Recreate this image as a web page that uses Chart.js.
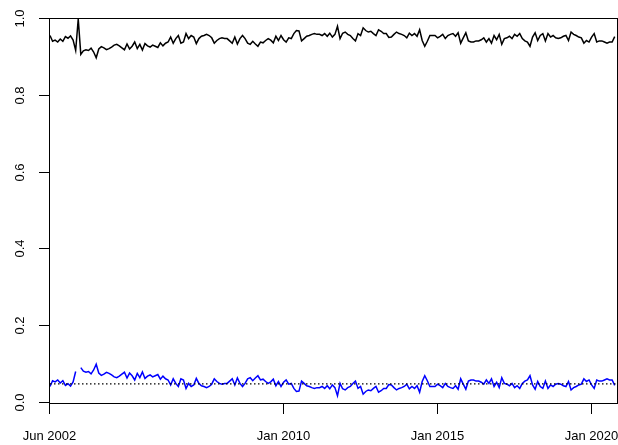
<!DOCTYPE html>
<html>
<head>
<meta charset="utf-8">
<script src="https://cdn.jsdelivr.net/npm/chart.js@4/dist/chart.umd.min.js"></script>
<style>
  html, body { margin: 0; padding: 0; background: #fff; }
  #wrap { width: 618px; height: 445px; }
</style>
</head>
<body>
<div id="wrap"><canvas id="chart" width="618" height="445"></canvas></div>
<script>
// monthly shares, first month Jun 2002 (index 0), one value per month
const tickMonths = [0, 91, 151, 211];
const tickLabels = ["Jun 2002", "Jan 2010", "Jan 2015", "Jan 2020"];
const yTicks = [0, 0.2, 0.4, 0.6, 0.8, 1.0];
const yTickLabels = ["0.0", "0.2", "0.4", "0.6", "0.8", "1.0"];
const referenceLevel = 0.05;

const blueShare = [
    0.043, 0.058, 0.055, 0.060, 0.052, 0.058, 0.046, 0.050, 0.044, 0.055, 0.082,
    null,
    0.092, 0.083, 0.080, 0.082, 0.076, 0.086, 0.101, 0.078, 0.072, 0.075, 0.080,
    0.077, 0.073, 0.068, 0.066, 0.070, 0.075, 0.080, 0.065, 0.078, 0.071, 0.060,
    0.077, 0.066, 0.081, 0.064, 0.070, 0.073, 0.068, 0.071, 0.074, 0.062, 0.070,
    0.063, 0.060, 0.047, 0.063, 0.051, 0.043, 0.063, 0.060, 0.038, 0.051, 0.043,
    0.047, 0.064, 0.051, 0.045, 0.043, 0.040, 0.043, 0.049, 0.063, 0.056, 0.051,
    0.049, 0.051, 0.051, 0.057, 0.063, 0.047, 0.065, 0.051, 0.043, 0.051, 0.063,
    0.066, 0.058, 0.065, 0.071, 0.060, 0.062, 0.056, 0.051, 0.055, 0.062,
    0.045, 0.056, 0.043, 0.054, 0.060, 0.049, 0.051, 0.038, 0.030, 0.031, 0.057,
    0.051, 0.045, 0.043, 0.040, 0.038, 0.040, 0.040, 0.043, 0.038, 0.045, 0.037,
    0.047, 0.040, 0.019, 0.051, 0.037, 0.034, 0.040, 0.043, 0.051, 0.057, 0.038,
    0.043, 0.023, 0.030, 0.034, 0.032, 0.038, 0.043, 0.028, 0.032, 0.038, 0.038,
    0.048,
    0.047, 0.040, 0.034, 0.038, 0.040, 0.043, 0.049, 0.037, 0.043, 0.038, 0.045,
    0.028, 0.056, 0.071, 0.058, 0.043, 0.043, 0.043, 0.049, 0.045, 0.040, 0.051,
    0.043, 0.040, 0.038, 0.045, 0.036, 0.063, 0.049, 0.036, 0.057, 0.060, 0.060,
    0.057, 0.057, 0.054, 0.049, 0.060, 0.051, 0.063, 0.043, 0.054, 0.040, 0.066,
    0.051, 0.049, 0.045, 0.051, 0.040, 0.045, 0.038, 0.051, 0.057, 0.060, 0.071,
    0.047, 0.036, 0.056, 0.043, 0.038, 0.057, 0.038, 0.047, 0.043, 0.049, 0.051,
    0.049, 0.045, 0.043, 0.056, 0.034, 0.040, 0.043, 0.047, 0.049, 0.063, 0.056,
    0.060, 0.047, 0.038, 0.060, 0.057, 0.057, 0.060, 0.063, 0.060, 0.060, 0.046
];

const blackShare = [
    0.957, 0.942, 0.945, 0.940, 0.948, 0.942, 0.954, 0.950, 0.956, 0.945, 0.918,
    1.000,
    0.908, 0.917, 0.920, 0.918, 0.924, 0.914, 0.899, 0.922, 0.928, 0.925, 0.920,
    0.923, 0.927, 0.932, 0.934, 0.930, 0.925, 0.920, 0.935, 0.922, 0.929, 0.940,
    0.923, 0.934, 0.919, 0.936, 0.930, 0.927, 0.932, 0.929, 0.926, 0.938, 0.930,
    0.937, 0.940, 0.953, 0.937, 0.949, 0.957, 0.937, 0.940, 0.962, 0.949, 0.957,
    0.953, 0.936, 0.949, 0.955, 0.957, 0.960, 0.957, 0.951, 0.937, 0.944, 0.949,
    0.951, 0.949, 0.949, 0.943, 0.937, 0.953, 0.935, 0.949, 0.957, 0.949, 0.937,
    0.934, 0.942, 0.935, 0.929, 0.940, 0.938, 0.944, 0.949, 0.945, 0.938,
    0.955, 0.944, 0.957, 0.946, 0.940, 0.951, 0.949, 0.962, 0.970, 0.969, 0.943,
    0.949, 0.955, 0.957, 0.960, 0.962, 0.960, 0.960, 0.957, 0.962, 0.955, 0.963,
    0.953, 0.960, 0.981, 0.949, 0.963, 0.966, 0.960, 0.957, 0.949, 0.943, 0.962,
    0.957, 0.977, 0.970, 0.966, 0.968, 0.962, 0.957, 0.972, 0.968, 0.962, 0.962,
    0.952,
    0.953, 0.960, 0.966, 0.962, 0.960, 0.957, 0.951, 0.963, 0.957, 0.962, 0.955,
    0.972, 0.944, 0.929, 0.942, 0.957, 0.957, 0.957, 0.951, 0.955, 0.960, 0.949,
    0.957, 0.960, 0.962, 0.955, 0.964, 0.937, 0.951, 0.964, 0.943, 0.940, 0.940,
    0.943, 0.943, 0.946, 0.951, 0.940, 0.949, 0.937, 0.957, 0.946, 0.960, 0.934,
    0.949, 0.951, 0.955, 0.949, 0.960, 0.955, 0.962, 0.949, 0.943, 0.940, 0.929,
    0.953, 0.964, 0.944, 0.957, 0.962, 0.943, 0.962, 0.953, 0.957, 0.951, 0.949,
    0.951, 0.955, 0.957, 0.944, 0.966, 0.960, 0.957, 0.953, 0.951, 0.937, 0.944,
    0.940, 0.953, 0.962, 0.940, 0.943, 0.943, 0.940, 0.937, 0.940, 0.940, 0.954
];

const lastMonth = blueShare.length - 1;
const labelFont = '13px "Liberation Sans", Arial, sans-serif';

function toPoints(values) {
    return values.map((v, i) => ({ x: i, y: v }));
}

// box, ticks and tick labels drawn in base-graphics style
const boxAxes = {
    id: 'boxAxes',
    afterDraw(chart) {
        const ctx = chart.ctx;
        const area = chart.chartArea;
        const xs = chart.scales.x;
        const ys = chart.scales.y;
        const tickLen = 11;
        ctx.save();
        ctx.strokeStyle = '#000';
        ctx.lineWidth = 1;
        ctx.strokeRect(Math.round(area.left) - 0.5, Math.round(area.top) - 0.5,
            Math.round(area.right - area.left) + 1, Math.round(area.bottom - area.top) + 1);

        ctx.fillStyle = '#000';
        ctx.font = labelFont;
        ctx.textAlign = 'center';
        ctx.textBaseline = 'middle';
        tickMonths.forEach((m, i) => {
            const px = Math.round(xs.getPixelForValue(m)) - 0.5;
            ctx.beginPath();
            ctx.moveTo(px, area.bottom);
            ctx.lineTo(px, area.bottom + tickLen);
            ctx.stroke();
            ctx.fillText(tickLabels[i], px, 436);
        });

        yTicks.forEach((v, i) => {
            const py = Math.round(ys.getPixelForValue(v)) - 0.5;
            ctx.beginPath();
            ctx.moveTo(area.left, py);
            ctx.lineTo(area.left - tickLen, py);
            ctx.stroke();
            ctx.save();
            ctx.translate(20, py);
            ctx.rotate(-Math.PI / 2);
            ctx.fillText(yTickLabels[i], 0, 0);
            ctx.restore();
        });
        ctx.restore();
    }
};

new Chart(document.getElementById('chart'), {
    type: 'line',
    data: {
        datasets: [
            {
                data: toPoints(blackShare),
                borderColor: '#000000',
                borderWidth: 1.5,
                order: 3
            },
            {
                data: toPoints(blueShare),
                borderColor: '#0000ff',
                borderWidth: 1.5,
                spanGaps: false,
                order: 2
            },
            {
                data: [{ x: 0, y: referenceLevel }, { x: 220.7, y: referenceLevel }],
                borderColor: '#000000',
                borderWidth: 1.2,
                borderDash: [1.5, 2.5],
                order: 1
            }
        ]
    },
    options: {
        responsive: false,
        animation: false,
        layout: { padding: { left: 50, right: 1.5, top: 19, bottom: 42 } },
        elements: {
            point: { radius: 0 },
            line: { tension: 0 }
        },
        plugins: {
            legend: { display: false },
            tooltip: { enabled: false }
        },
        scales: {
            x: { type: 'linear', min: 0, max: 220.7, display: false },
            y: { type: 'linear', min: 0, max: 1, display: false }
        }
    },
    plugins: [boxAxes]
});
</script>
</body>
</html>
